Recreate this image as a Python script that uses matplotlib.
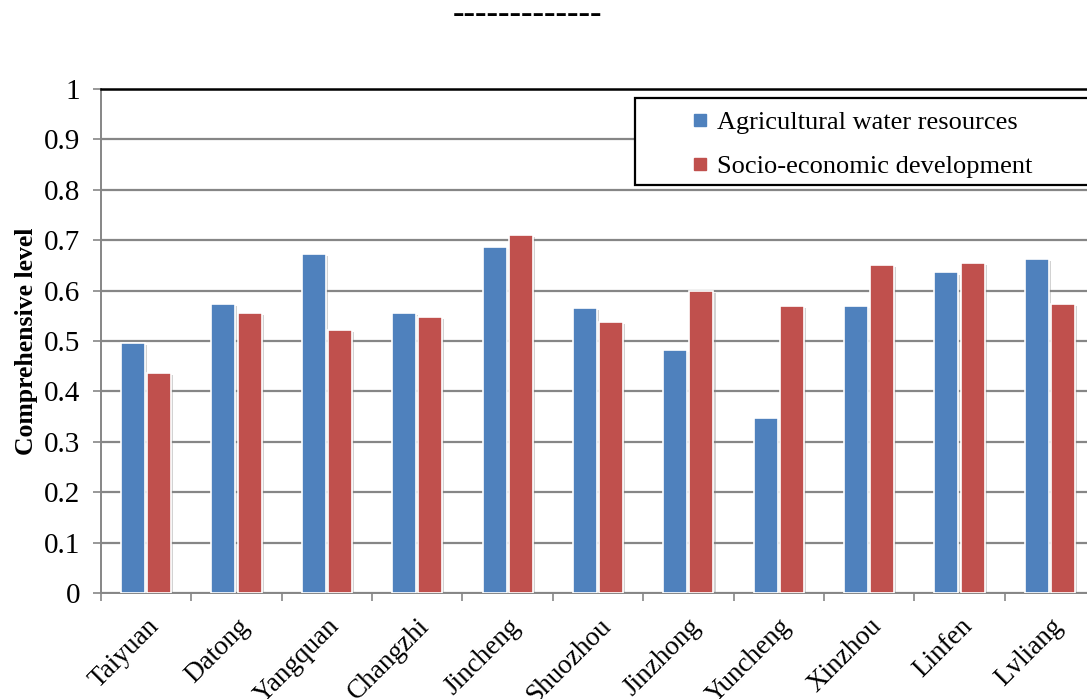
import numpy as np
import matplotlib
matplotlib.use("Agg")
import matplotlib.pyplot as plt
from matplotlib.patches import Rectangle
from matplotlib.lines import Line2D
import matplotlib.patheffects as pe
import matplotlib.transforms as mtransforms

cities = ["Taiyuan", "Datong", "Yangquan", "Changzhi", "Jincheng", "Shuozhou",
          "Jinzhong", "Yuncheng", "Xinzhou", "Linfen", "Lvliang"]
water = [0.497, 0.573, 0.673, 0.556, 0.686, 0.566, 0.482, 0.348, 0.569, 0.636, 0.663]
socio = [0.436, 0.555, 0.521, 0.548, 0.711, 0.537, 0.599, 0.570, 0.650, 0.654, 0.573]
series_names = ["Agricultural water resources", "Socio-economic development"]
yticks = [0, 0.1, 0.2, 0.3, 0.4, 0.5, 0.6, 0.7, 0.8, 0.9, 1]
ytick_labels = ["0", "0.1", "0.2", "0.3", "0.4", "0.5", "0.6", "0.7", "0.8", "0.9", "1"]
title_text = "-" * 13

plt.rcParams['font.family'] = ['Liberation Serif', 'DejaVu Serif']

W, H = 1087, 699
fig = plt.figure(figsize=(W / 100, H / 100), dpi=100)
ax = fig.add_axes([101 / W, (H - 593) / H, 994 / W, 504 / H])

blue = "#4F81BD"
red = "#C0504D"
x = np.arange(len(cities))
bw = 0.265
off = 0.145
shadow = [pe.SimplePatchShadow(offset=(1.5, -1.5), shadow_rgbFace=(0.5, 0.5, 0.5), alpha=0.35), pe.Normal()]
b1 = ax.bar(x - off, water, width=bw, color=blue, edgecolor="white", linewidth=1.2, zorder=3)
b2 = ax.bar(x + off, socio, width=bw, color=red, edgecolor="white", linewidth=1.2, zorder=3)
for b in list(b1) + list(b2):
    b.set_path_effects(shadow)

ax.set_xlim(-0.5, len(cities) - 0.5)
ax.set_ylim(0, 1)
ax.set_yticks(yticks)
ax.set_yticklabels(ytick_labels, fontsize=21)
ax.yaxis.grid(True, color="#868686", linewidth=1.6, zorder=1)
ax.set_axisbelow(True)

ax.set_xticks(x)
ax.set_xticklabels(cities, rotation=45, ha="right", rotation_mode="anchor", fontsize=19.5)
shift = mtransforms.ScaledTranslation(-5 / 100, 0, fig.dpi_scale_trans)
for lbl in ax.get_xticklabels():
    lbl.set_transform(lbl.get_transform() + shift)
ax.set_xticks(np.arange(len(cities) + 1) - 0.5, minor=True)
ax.tick_params(axis="x", which="major", length=0, pad=15)
ax.tick_params(axis="x", which="minor", length=6, color="#868686", width=1.2)
ax.tick_params(axis="y", length=6, color="#868686", width=1.2, pad=9)

for s in ["left", "bottom"]:
    ax.spines[s].set_color("#868686")
    ax.spines[s].set_linewidth(1.4)
ax.spines["top"].set_color("black")
ax.spines["top"].set_linewidth(1.8)
ax.spines["right"].set_visible(False)

ax.set_ylabel("Comprehensive level", fontsize=18.5, fontweight="bold", labelpad=4)

fig.text(528 / W, 1 - 15 / H, title_text, ha="center", va="center", fontsize=25)

# legend frame (extends beyond right edge as in the reference)
rect = Rectangle((635 / W, (H - 185) / H), 0.5, 87 / H, transform=fig.transFigure,
                 facecolor="white", edgecolor="black", linewidth=1.6, zorder=5, clip_on=False)
fig.patches.append(rect)

handles = [Line2D([], [], marker="s", linestyle="none", color=blue, markersize=9),
           Line2D([], [], marker="s", linestyle="none", color=red, markersize=9)]
leg = fig.legend(handles, series_names, loc="upper left", bbox_to_anchor=(683 / W, 1 - 103 / H),
                 frameon=False, fontsize=19, handlelength=0.7, handletextpad=0.3,
                 labelspacing=0.78, borderaxespad=0, borderpad=0.3)
leg.set_zorder(6)

fig.savefig("out.png", dpi=100)
